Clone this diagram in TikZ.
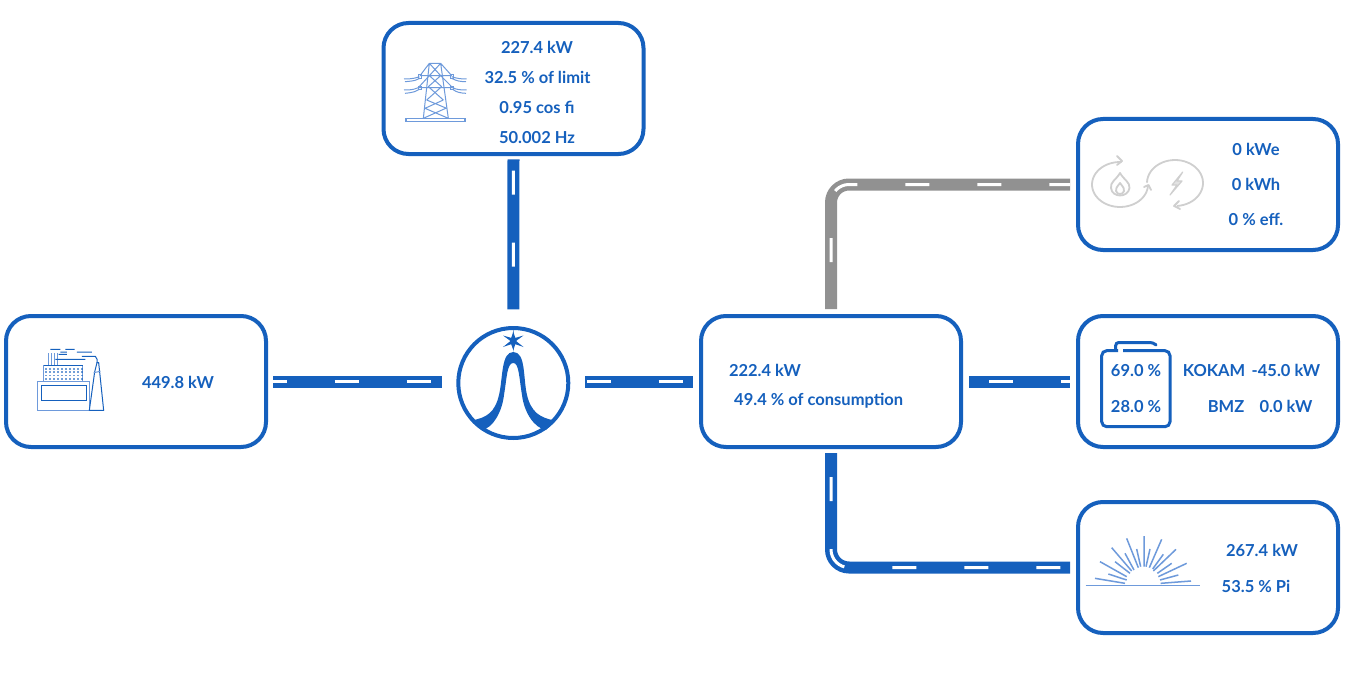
\documentclass[tikz,border=0pt]{standalone}
\usepackage{fontspec}
\setmainfont{Lato}
\definecolor{flowblue}{HTML}{1560BD}
\definecolor{flowgray}{HTML}{919191}
\definecolor{iconblue}{HTML}{6E9ADB}
\definecolor{icongray}{HTML}{CFCFCF}
\tikzset{
  panel/.style={draw=flowblue,line width=4pt,rounded corners=25pt,fill=white,minimum width=260pt,minimum height=131pt,outer sep=0pt,inner sep=0pt},
  label/.style={text=flowblue,font=\fontsize{16.5}{16.5}\selectfont\bfseries,inner sep=0pt,anchor=center,yshift=-0.6pt},
  road/.style={line width=12pt,draw=#1},
  road/.default=flowblue,
  lane/.style={draw=white,line width=3pt,dash pattern=on 24pt off 48pt,dash phase=#1},
  ico/.style={draw=iconblue,line width=1pt},
  icod/.style={draw=flowblue,line width=1pt},
  sunray/.style={draw=iconblue,line width=1.5pt},
  chp/.style={draw=icongray,line width=1.8pt,line join=round,line cap=round}
}
\begin{document}
\begin{tikzpicture}[x=1pt,y=-1pt]
\useasboundingbox (0,0) rectangle (1351,674);
% boxes
\node[panel] (grid) at (513.5,88.5) {};
\node[panel] (plant) at (136,381.5) {};
\node[panel] (cons) at (831,381.5) {};
\node[panel] (chpbox) at (1208,184.5) {};
\node[panel] (batt) at (1208,381.5) {};
\node[panel] (solar) at (1208,567.5) {};
\node[circle,draw=flowblue,line width=4pt,minimum size=110pt,inner sep=0pt,outer sep=0pt] (hub) at (513.3,383) {};
% roads
\foreach \a/\b/\s/\e/\p in {
  {grid.south}/{hub.north}/5.3/18.7/60.6,
  {plant.east}/{plant.east -| hub.west}/7.3/16.3/10.6,
  {cons.west -| hub.east}/{cons.west}/16.7/7.7/70.3,
  {cons.east}/{batt.west}/8/8/52}{
  \draw[road,shorten <=\s pt,shorten >=\e pt] (\a) -- (\b);
  \draw[lane=\p,shorten <=\s pt,shorten >=\e pt] (\a) -- (\b);
}
\draw[road=flowgray,rounded corners=18pt,shorten <=7pt,shorten >=8pt] (cons.north) |- (chpbox.west);
\draw[lane=25,rounded corners=18pt,shorten <=7pt,shorten >=8pt] (cons.north) |- (chpbox.west);
\draw[road,rounded corners=18pt,shorten <=6pt,shorten >=8pt] (cons.south) |- (solar.west);
\draw[lane=48,rounded corners=18pt,shorten <=6pt,shorten >=8pt] (cons.south) |- (solar.west);
% texts
\node[label] (g1) at (537,47) {227.4 kW};
\node[label] (g2) at (537.5,77) {32.5 \% of limit};
\node[label] (g3) at (537,107) {0.95 cos fi};
\node[label] (g4) at (537,137) {50.002 Hz};
\node[label] (p1) at (178,382) {449.8 kW};
\node[label] (c1) at (765,370) {222.4 kW};
\node[label] (c2) at (818.7,400) {49.4 \% of consumption};
\node[label] (h1) at (1256,149) {0 kWe};
\node[label] (h2) at (1256,184) {0 kWh};
\node[label] (h3) at (1256,219) {0 \% eff.};
\node[label] (b1) at (1136,370) {69.0 \%};
\node[label] (b2) at (1136,406) {28.0 \%};
\node[label] (b3) at (1214,370) {KOKAM};
\node[label] (b4) at (1286,370) {-45.0 kW};
\node[label] (b5) at (1226,406) {BMZ};
\node[label] (b6) at (1286,406) {0.0 kW};
\node[label] (s1) at (1262,550) {267.4 kW};
\node[label] (s2) at (1256,586) {53.5 \% Pi};
% logo
\fill[flowblue] (471,420.5) .. controls (487,418) and (495,412) .. (499,395)
  .. controls (503,378) and (501,352) .. (513.3,352)
  .. controls (526,352) and (523,378) .. (527,395)
  .. controls (531,412) and (540,418) .. (555,420.5)
  -- (546,430) .. controls (534,428) and (524,412) .. (522,395)
  .. controls (519,377) and (519,363) .. (513.3,363)
  .. controls (507,363) and (507,377) .. (504,395)
  .. controls (502,412) and (493,428) .. (482,430) -- cycle;
\fill[flowblue] (513.3,328) -- (514.3,341) -- (513.3,352) -- (512.3,341) -- cycle;
\fill[flowblue] (503,335.5) -- (513.3,338.5) -- (523.5,335.5) -- (516,341) -- (523.5,347) -- (513.3,343.5) -- (503,347) -- (510.5,341) -- cycle;
\fill[flowblue] (513.3,332) -- (516.5,341) -- (513.3,350) -- (510,341) -- cycle;
% pylon
\begin{scope}[shift={(400,55)},x=0.3333pt,y=-0.3333pt]
\draw[ico] (88,25)--(70,190) (122,25)--(145,190) (88,25)--(122,25)
 (88,25)--(122,62) (122,25)--(88,62) (88,62)--(125,95) (122,62)--(85,95)
 (85,95)--(130,135) (125,95)--(80,135) (80,135)--(140,160) (130,135)--(75,160)
 (75,160)--(145,190) (137,160)--(70,190)
 (60,62)--(155,62) (55,98)--(158,98) (88,25)--(60,62) (122,25)--(155,62) (88,62)--(55,98) (122,62)--(158,98);
\draw[ico] (12,72) .. controls (40,72) and (50,68) .. (58,65)
 (15,80) .. controls (45,78) and (50,75) .. (60,70)
 (12,105) .. controls (40,105) and (45,102) .. (55,98)
 (15,115) .. controls (45,112) and (50,108) .. (58,103)
 (155,65) .. controls (170,70) and (180,72) .. (200,72)
 (155,70) .. controls (170,78) and (180,80) .. (198,80)
 (158,98) .. controls (170,104) and (180,105) .. (200,105)
 (158,103) .. controls (170,112) and (180,114) .. (198,115);
\draw[ico] (55,60) rectangle (65,70) (150,60) rectangle (160,70) (55,95) rectangle (65,103) (150,95) rectangle (160,103);
\draw[ico,line width=1.2pt] (18,190) rectangle (195,200);
\end{scope}
% factory
\begin{scope}[shift={(32,342)},x=0.3333pt,y=-0.3333pt]
\draw[ico] (18,120) rectangle (172,205);
\draw[icod,line width=1.2pt] (28,130) rectangle (163,176);
\draw[ico] (35,70) rectangle (152,120);
\draw[icod] (35,70) -- (152,70);
\foreach \yy in {78,88,98,108}\foreach \xx in {40,52,...,148}{
  \fill[flowblue,opacity=.6] (\xx,\yy) rectangle +(6,5);}
\draw[ico] (50,33) -- (50,70) (58,33) -- (58,70) (68,33) -- (68,70) (76,33) -- (76,70);
\draw[icod] (55,22)--(85,22) (100,22)--(128,22) (85,30)--(105,30) (135,30)--(180,30)
 (70,52)--(115,52) (80,37)--(105,37) (115,52)--(160,52) (150,43)--(190,43) .. controls (196,48) and (196,55) .. (195,62);
\draw[icod] (172,205) -- (188,90) -- (195,62) -- (200,62) -- (203,90) -- (215,205) -- cycle;
\draw[ico] (185,92) -- (205,88);
\end{scope}
% chp icon
\draw[chp] plot[smooth,domain=-88:-355,samples=40] ({1120+28*cos(\x)},{184.5+22.5*sin(\x)});
\draw[chp] (1117,156) -- (1122,161) -- (1117,165);
\draw[chp] (1144,187) -- (1148.5,185) -- (1151,190);
\draw[chp] plot[smooth,domain=-178:85,samples=40] ({1175+28*cos(\x)},{183+23*sin(\x)});
\draw[chp] (1179,201) -- (1174,206) -- (1180,209);
\draw[chp] (1120,173) .. controls (1116,180) and (1110,182) .. (1111,188) .. controls (1112,198) and (1128,198) .. (1129.5,188) .. controls (1130,182) and (1124,180) .. (1120,173) -- cycle;
\draw[chp] (1120,183) .. controls (1117,187) and (1115,189) .. (1116,191) .. controls (1117,195) and (1123,195) .. (1124,191) .. controls (1125,189) and (1123,187) .. (1120,183) -- cycle;
\draw[chp,fill=icongray!60,line width=1.2pt] (1182.7,172) -- (1172,185) -- (1177,185) -- (1170,195) -- (1182,181) -- (1177,181) -- cycle;
% battery
\draw[draw=flowblue,line width=3pt,rounded corners=5pt] (1118,350.7) -- (1101.7,350.7) -- (1101.7,426.7) -- (1170,426.7) -- (1170,350.7) -- (1123,350.7);
\draw[draw=flowblue,line width=3pt,rounded corners=3pt,line cap=round] (1115.7,350) -- (1115.7,342.5) -- (1153,342.5) -- (1156,345);
% sun
\begin{scope}[shift={(1070,495)},x=0.3333pt,y=-0.3333pt]
\draw[sunray,line width=1.2pt] (47,272) -- (390,272);
\draw[sunray] (75,250)--(165,265) (115,237)--(170,255) (90,200)--(170,245) (135,200)--(180,235)
 (125,158)--(185,228) (165,175)--(192,225) (170,130)--(205,218) (200,162)--(212,215)
 (222,123)--(222,215) (240,162)--(228,215) (275,133)--(238,218) (280,178)--(248,222)
 (318,163)--(250,228) (305,205)--(262,235) (350,205)--(265,245) (325,240)--(270,255) (363,258)--(272,265);
\end{scope}
\end{tikzpicture}
\end{document}
